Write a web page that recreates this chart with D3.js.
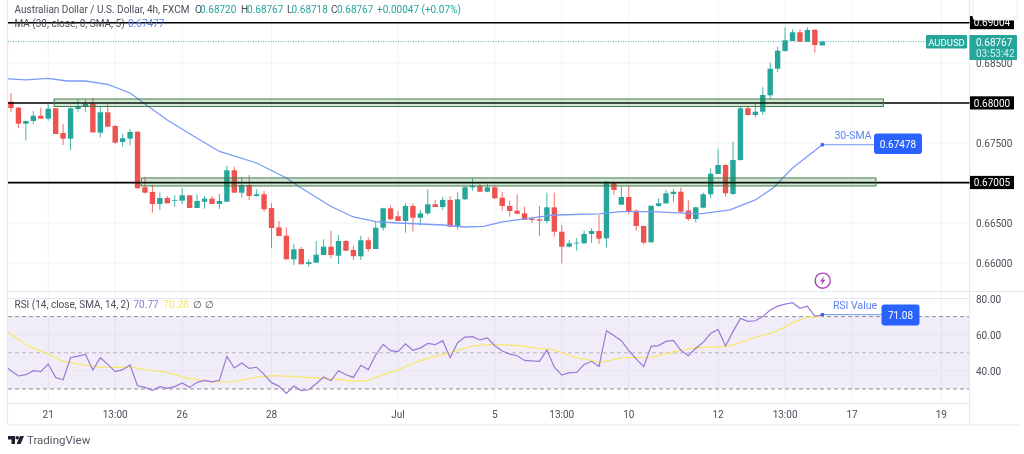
<!DOCTYPE html>
<html><head><meta charset="utf-8">
<script src="https://cdn.jsdelivr.net/npm/d3@7/dist/d3.min.js"></script>
<style>html,body{margin:0;padding:0;background:#fff;overflow:hidden}svg{display:block;filter:blur(.4px)}text{font-family:Roboto,sans-serif}</style>
</head><body><svg id="c" width="1024" height="454"></svg>
<script>
const opens=[.68016,.67941,.67741,.67775,.67841,.67804,.67934,.67625,.67554,.67925,.67959,.67991,.67629,.67884,.67713,.67513,.67554,.67641,.66946,.66888,.66738,.66813,.66779,.66779,.66846,.66688,.66766,.66804,.66738,.66766,.67159,.66879,.66975,.66838,.66859,.66688,.66446,.66341,.66046,.66175,.65988,.66004,.66100,.66204,.66091,.66275,.66163,.66084,.66284,.66175,.66441,.66684,.66584,.66525,.66713,.66566,.66621,.66734,.66700,.66788,.66454,.66796,.66946,.66963,.66891,.66946,.66816,.66713,.66654,.66621,.66554,.66546,.66525,.66696,.66391,.66204,.66246,.66246,.66363,.66400,.66309,.67009,.66729,.66825,.66654,.66463,.66259,.66713,.66746,.66863,.66891,.66654,.66550,.66691,.66859,.67113,.67225,.66863,.67288,.67934,.67850,.67891,.68096,.68429,.68650,.68775,.68884,.68766,.68916,.68720];
const closes=[.67938,.67741,.67775,.67841,.67804,.67929,.67613,.67554,.67934,.67963,.67991,.67634,.67884,.67704,.67504,.67559,.67638,.66934,.66879,.66738,.66813,.66746,.66788,.66846,.66688,.66775,.66804,.66738,.66775,.67159,.66879,.66975,.66838,.66859,.66671,.66438,.66338,.66046,.66171,.65984,.66009,.66104,.66204,.66100,.66275,.66154,.66084,.66284,.66175,.66441,.66684,.66546,.66525,.66713,.66566,.66621,.66734,.66700,.66788,.66454,.66796,.66946,.66963,.66891,.66946,.66809,.66713,.66650,.66616,.66538,.66538,.66529,.66696,.66391,.66204,.66246,.66254,.66363,.66400,.66304,.67016,.66913,.66825,.66641,.66463,.66254,.66716,.66746,.66871,.66891,.66641,.66550,.66696,.66859,.67116,.67225,.66871,.67288,.67934,.67850,.67891,.68100,.68429,.68654,.68784,.68884,.68766,.68913,.68725,.68767];
const highs=[.68125,.67950,.67779,.67900,.67941,.67988,.67938,.67738,.67950,.68050,.68038,.68063,.67954,.67984,.67725,.67613,.67675,.67650,.67079,.66975,.66879,.66838,.66846,.66938,.66850,.66859,.66838,.66838,.66863,.67213,.67204,.67071,.67100,.66921,.66900,.66746,.66525,.66446,.66238,.66200,.66046,.66275,.66296,.66404,.66350,.66288,.66213,.66341,.66321,.66516,.66691,.66716,.66650,.66746,.66746,.66663,.66921,.66788,.66829,.66838,.66884,.66963,.67059,.66988,.66988,.66963,.66891,.66779,.66859,.66704,.66579,.66713,.66879,.66879,.66475,.66288,.66309,.66404,.66434,.66600,.67016,.67016,.66954,.66963,.66671,.66463,.66716,.66809,.66913,.66925,.66941,.66788,.66700,.66879,.67184,.67421,.67234,.67516,.67954,.67954,.67988,.68196,.68504,.68704,.68946,.68921,.68921,.68946,.68916,.68767];
const lows=[.67888,.67688,.67529,.67738,.67804,.67779,.67609,.67475,.67413,.67888,.67891,.67625,.67571,.67704,.67491,.67454,.67471,.66934,.66871,.66629,.66663,.66746,.66704,.66738,.66688,.66688,.66679,.66738,.66675,.66766,.66879,.66816,.66788,.66829,.66641,.66184,.66338,.66046,.65975,.65984,.65954,.66004,.66100,.66059,.65988,.66154,.66038,.66038,.66141,.66175,.66404,.66538,.66525,.66379,.66391,.66466,.66600,.66700,.66663,.66446,.66421,.66788,.66904,.66891,.66884,.66800,.66654,.66579,.66609,.66538,.66504,.66338,.66496,.66329,.65996,.66196,.66154,.66246,.66254,.66238,.66196,.66850,.66729,.66613,.66404,.66238,.66254,.66704,.66738,.66766,.66621,.66529,.66509,.66684,.66809,.67113,.66829,.66850,.67279,.67841,.67821,.67850,.68050,.68384,.68641,.68775,.68766,.68766,.68629,.68718];
const maBars=[-1,2,5,7.5,10,13,16,18,21,24.5,28,33,37,39,43,46,49,52,58,61,63.5,66,70,73,79,82,86,92.6,96.6,100,102.4,105,109];
const maValues=[.68305,.68288,.68309,.68275,.68275,.68234,.68125,.67988,.67788,.67588,.67394,.67250,.67063,.66938,.66706,.66575,.66516,.66500,.66475,.66450,.66459,.66513,.66563,.66600,.66613,.66641,.66641,.66613,.66663,.66788,.66938,.67188,.67478];
const rsiValues=[43.25,40.1,37.2,37.9,40.1,39.6,43.8,36.3,35.1,47.3,48.2,49.1,40.5,47.3,43.6,39.6,40.7,43.3,31.8,30.9,29.3,31.3,30.4,31.3,33.3,30.9,33.7,34.8,33.9,34.8,48.0,41.6,44.4,41.4,42.0,38.1,33.5,31.6,27.6,31.6,29.1,29.6,32.9,36.6,34.6,40.1,37.9,36.4,43.1,40.7,48.8,54.7,51.2,50.6,55.0,51.4,52.6,55.2,54.5,56.7,47.3,55.6,58.7,58.9,57.1,58.2,53.9,51.0,49.3,48.4,45.8,45.5,45.3,51.5,42.0,37.7,39.0,39.2,43.6,45.3,42.5,62.2,59.5,56.7,51.2,46.6,42.3,53.6,54.0,56.3,56.9,51.4,48.4,52.5,55.8,60.8,62.8,53.8,61.7,69.0,67.4,67.7,70.0,73.6,75.8,76.9,77.7,74.6,75.7,70.3,70.77];
const rsiMaBars=[-0.36,.76,2.33,4.8,6.8,9.7,12,14.65,16,18.7,20.5,23.6,26.75,29.9,33,35.3,37.9,41,44.2,46.2,48,49.6,52,53.6,56.3,59,62.1,64.8,68.4,71.1,72.9,75.6,79.1,82.3,85.9,89.9,92.1,95.7,97.1,98.9,102.7,105.1,106.9,109];
const rsiMaValues=[61.3,58.0,53.8,49.7,45.6,43.3,42.0,42.0,42.3,40.1,39.6,36.1,33.9,34.1,36.6,37.4,37.0,36.1,35.2,34.2,34.8,37.4,40.5,43.6,47.3,50.1,53.8,54.7,53.9,52.3,51.7,47.7,44.7,47.3,47.5,51.4,52.8,53.4,54.3,57.1,61.7,66.8,69.6,70.28];
const timeTickBars=[5,14,23,35,52,65,74,83,95,104,113,125];
const timeTickLabels=["21","13:00","26","28","Jul","5","13:00","10","12","13:00","17","19"];
const priceTicks=[.685,.675,.665,.66];
const priceGrid=[.69,.685,.68,.675,.67,.665,.66];
const levelValues=[.69004,.68,.67005];
const levelLabels=["0.69004","0.68000","0.67005"];
const zoneTop=[.6805,.67063];const zoneBottom=[.67956,.66963];const zoneFrom=[5.8,17.5];const zoneTo=[117.2,116.2];
const rsiTicks=[80,60,40];const rsiDashed=[70,50,30];
const UP="#26a69a",DOWN="#ef5350",BLUE="#2962ff",INK="#4a4e5a";

const svg=d3.select("#c");
const x=d3.scaleLinear([0,109],[11,822.3]);
const y=d3.scaleLinear([.66,.69],[263,23]);
const r=d3.scaleLinear([30,80],[389,298.5]);
const L=8,R=969.5;

const defs=svg.append("defs");
defs.append("clipPath").attr("id","cp").append("rect").attr("x",L).attr("y",0).attr("width",R-L).attr("height",291);
defs.append("clipPath").attr("id","cr").append("rect").attr("x",L).attr("y",292).attr("width",R-L).attr("height",111);

const grid="#f2f3f7";
const g=svg.append("g");
g.selectAll(".v").data(timeTickBars).join("line").attr("x1",d=>x(d)).attr("x2",d=>x(d)).attr("y1",0).attr("y2",403).attr("stroke",grid);
g.selectAll(".h").data(priceGrid).join("line").attr("x1",L).attr("x2",R).attr("y1",d=>y(d)).attr("y2",d=>y(d)).attr("stroke",grid);

svg.append("rect").attr("x",L).attr("width",R-L).attr("y",r(70)).attr("height",r(30)-r(70)).attr("fill","#9575cd").attr("fill-opacity",.14);
svg.selectAll(".rg").data(rsiTicks).join("line").attr("x1",L).attr("x2",R).attr("y1",d=>r(d)).attr("y2",d=>r(d)).attr("stroke","#e6e6f0");
svg.selectAll(".rd").data(rsiDashed).join("line").attr("x1",L).attr("x2",R).attr("y1",d=>r(d)).attr("y2",d=>r(d)).attr("stroke",d=>d===50?"#b4b4b8":"#8f8f95").attr("stroke-dasharray","4 3");

const fr=svg.append("g").attr("stroke","#e8e9f0").attr("stroke-width",1.2);
[[7.5,0,7.5,425],[R,0,R,425],[7.5,291.5,1024,291.5],[7.5,403.5,R,403.5],[7.5,425,1020,425]].forEach(a=>fr.append("line").attr("x1",a[0]).attr("y1",a[1]).attr("x2",a[2]).attr("y2",a[3]));

svg.append("line").attr("x1",L).attr("x2",926).attr("y1",y(closes[109])).attr("y2",y(closes[109])).attr("stroke","#26a69a").attr("stroke-opacity",.8).attr("stroke-dasharray","1 1.5").attr("stroke-width",1);

const cg=svg.append("g").attr("clip-path","url(#cp)");
const idx=d3.range(opens.length);
cg.selectAll(".w").data(idx).join("line").attr("x1",i=>x(i)).attr("x2",i=>x(i)).attr("y1",i=>y(highs[i])).attr("y2",i=>y(lows[i])).attr("stroke",i=>closes[i]>=opens[i]?UP:DOWN).attr("stroke-width",1).attr("stroke-opacity",.85);
cg.selectAll(".b").data(idx).join("rect").attr("x",i=>x(i)-2.7).attr("width",5.4)
 .attr("y",i=>y(Math.max(opens[i],closes[i]))).attr("height",i=>Math.max(.8,Math.abs(y(opens[i])-y(closes[i])))).attr("fill",i=>closes[i]>=opens[i]?UP:DOWN);

const maLine=d3.line().x((d,i)=>x(maBars[i])).y(d=>y(d));
cg.append("path").attr("d",maLine(maValues)).attr("fill","none").attr("stroke","#7b9bf7").attr("stroke-width",1.3);

svg.selectAll(".lv").data(levelValues).join("line").attr("x1",L).attr("x2",R).attr("y1",d=>y(d)).attr("y2",d=>y(d)).attr("stroke","#000").attr("stroke-width",1.6);

svg.selectAll(".z").data(zoneTop).join("rect").attr("x",(d,i)=>x(zoneFrom[i])).attr("width",(d,i)=>x(zoneTo[i])-x(zoneFrom[i])).attr("y",d=>y(d)).attr("height",(d,i)=>y(zoneBottom[i])-y(d))
 .attr("fill","#2e7d32").attr("fill-opacity",.2).attr("stroke","#3f7d48").attr("stroke-width",1);

const rg=svg.append("g").attr("clip-path","url(#cr)");
rg.append("path").attr("d",d3.line().x((d,i)=>x(rsiMaBars[i])).y(d=>r(d))(rsiMaValues)).attr("fill","none").attr("stroke","#f9e86f").attr("stroke-width",1.3);
rg.append("path").attr("d",d3.line().x((d,i)=>x(i-1)).y(d=>r(d))(rsiValues)).attr("fill","none").attr("stroke","#9a7ad6").attr("stroke-width",1.2);

function t(px,py,s,o={}){return svg.append("text").attr("x",px).attr("y",py).text(s).attr("font-size",o.size||10).attr("fill",o.fill||INK).attr("text-anchor",o.anchor||"start").attr("font-weight",o.weight||400).attr("dominant-baseline","central");}
t(14.5,9.5,"Australian Dollar / U.S. Dollar, 4h, FXCM");
[["O",195,"0.68720",200],["H",241,"0.68767",247],["L",287,"0.68718",291.5],["C",331,"0.68767",337]].forEach(a=>{t(a[1],9.5,a[0]);t(a[3],9.5,a[2],{fill:UP});});
t(377,9.5,"+0.00047 (+0.07%)",{fill:UP});
t(14.5,23,"MA (30, close, 0, SMA, 5)");
t(128,23,"0.67477",{fill:"#5b82f5"});
t(14.5,304,"RSI (14, close, SMA, 14, 2)");
t(133.5,304,"70.77",{fill:"#9575cd"});
t(163.5,304,"70.28",{fill:"#f5e663"});
t(193,304,"∅");t(205,304,"∅");

priceTicks.forEach(d=>t(976,y(d),d3.format(".5f")(d),{fill:INK}));
rsiTicks.forEach(d=>t(976,r(d)+.5,d3.format(".2f")(d),{fill:INK}));
timeTickBars.forEach((d,i)=>t(x(d),414,timeTickLabels[i],{anchor:"middle"}));

levelValues.forEach((d,i)=>{svg.append("rect").attr("x",970).attr("width",44).attr("y",y(d)-6.7).attr("height",13.2).attr("fill","#000");t(992,y(d)+.3,levelLabels[i],{fill:"#fff",anchor:"middle"});});
svg.append("rect").attr("x",973).attr("y",-3).attr("width",44).attr("height",23).attr("rx",3).attr("fill","#fff").attr("stroke","#eceef3");

svg.append("rect").attr("x",926).attr("y",35).attr("width",41).attr("height",13.5).attr("rx",1).attr("fill",UP);
t(946.5,42,"AUDUSD",{fill:"#fff",anchor:"middle",size:9.5});
svg.append("rect").attr("x",969.5).attr("y",35).attr("width",47.5).attr("height",25).attr("rx",1).attr("fill",UP);
t(976,42,"0.68767",{fill:"#fff"});
t(976,53.5,"03:53:42",{fill:"#d5efec"});

const sy=y(maValues[maValues.length-1]);
svg.append("line").attr("x1",x(109)).attr("x2",874).attr("y1",sy).attr("y2",sy).attr("stroke","#6f92f5").attr("stroke-width",1);
svg.append("rect").attr("x",x(109)-1.6).attr("y",sy-1.6).attr("width",3.2).attr("height",3.2).attr("fill",BLUE);
t(853,135,"30-SMA",{fill:"#5b82f5",anchor:"middle",size:10.5});
svg.append("rect").attr("x",874).attr("y",133.5).attr("width",48).attr("height",20.5).attr("rx",3).attr("fill",BLUE);
t(898,144,"0.67478",{fill:"#fff",anchor:"middle"});
const ry=r(71.08);
svg.append("line").attr("x1",x(109)).attr("x2",882).attr("y1",ry).attr("y2",ry).attr("stroke","#8aa6f8").attr("stroke-width",1.4);
svg.append("rect").attr("x",x(109)-1.6).attr("y",ry-1.6).attr("width",3.2).attr("height",3.2).attr("fill",BLUE);
t(855,305,"RSI Value",{fill:"#5b82f5",anchor:"middle",size:10.5});
svg.append("rect").attr("x",881.5).attr("y",304.5).attr("width",38).attr("height",21).attr("rx",3).attr("fill",BLUE);
t(900.5,315,"71.08",{fill:"#fff",anchor:"middle"});

const m=svg.append("g").attr("transform","translate(822.7,280.7)");
m.append("circle").attr("r",7.6).attr("fill","#fff").attr("stroke","#ab47bc").attr("stroke-width",1.4);
m.append("path").attr("d","M1.5,-4.5 L-2.8,0.8 L-0.3,0.8 L-1.5,4.5 L2.8,-1 L0.3,-1 Z").attr("fill","#ab47bc");

const lg=svg.append("g").attr("transform","translate(8,436)").attr("fill","#1f2230");
lg.append("path").attr("d","M0,0 H7 V8 H3.5 V3.5 H0 Z");
lg.append("circle").attr("cx",9.2).attr("cy",1.8).attr("r",1.8);
lg.append("path").attr("d","M12,0 H16 L12.6,8 H8.6 Z");
t(27,440,"TradingView",{fill:"#555964",size:11.5});
</script></body></html>
